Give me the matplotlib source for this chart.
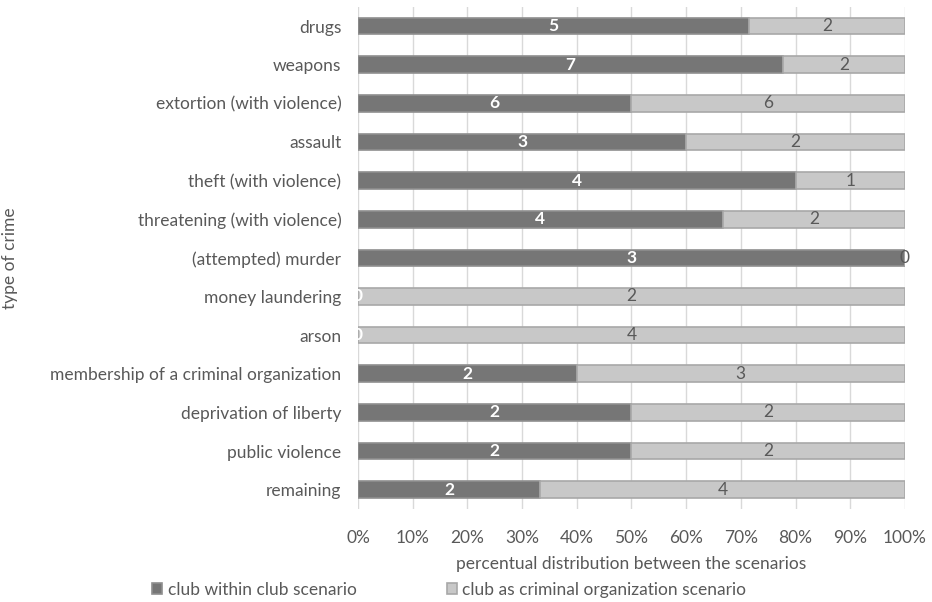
import matplotlib
matplotlib.use("Agg")
import matplotlib.pyplot as plt
import numpy as np

categories = ["drugs", "weapons", "extortion (with violence)", "assault",
              "theft (with violence)", "threatening (with violence)",
              "(attempted) murder", "money laundering", "arson",
              "membership of a criminal organization", "deprivation of liberty",
              "public violence", "remaining"]
club_within = [5, 7, 6, 3, 4, 4, 3, 0, 0, 2, 2, 2, 2]
criminal_org = [2, 2, 6, 2, 1, 2, 0, 2, 4, 3, 2, 2, 4]
series_names = ["club within club scenario", "club as criminal organization scenario"]
xticks = [0, 10, 20, 30, 40, 50, 60, 70, 80, 90, 100]

plt.rcParams['font.family'] = ['Lato', 'DejaVu Sans']
txt = "#595959"
fs = 12.5

fig = plt.figure(figsize=(9.32, 6.02), dpi=100)
ax = fig.add_axes([0.3841, 0.1545, 0.5869, 0.8344])

a = np.array(club_within, float)
b = np.array(criminal_org, float)
tot = a + b
pa = a / tot * 100
pb = b / tot * 100
y = np.arange(len(categories))

h = 0.43
bars1 = ax.barh(y, pa, height=h, color="#767676", edgecolor="#8f8f8f", linewidth=1.2,
                label=series_names[0], zorder=3)
bars2 = ax.barh(y, pb, left=pa, height=h, color="#c8c8c8", edgecolor="#a8a8a8", linewidth=1.2,
                label=series_names[1], zorder=3)

for i in range(len(categories)):
    ax.text(pa[i] / 2, y[i], str(club_within[i]), ha="center", va="center",
            color="white", fontsize=fs, fontweight="bold", zorder=5)
    ax.text(pa[i] + pb[i] / 2, y[i], str(criminal_org[i]), ha="center", va="center",
            color=txt, fontsize=fs, zorder=5)

ax.set_ylim(len(categories) - 0.5, -0.5)
ax.set_xlim(0, 100)
ax.set_xticks(xticks)
ax.set_xticklabels([f"{t}%" for t in xticks])
ax.set_yticks(y)
ax.set_yticklabels(categories)
ax.tick_params(axis="both", length=0, labelsize=fs, colors=txt)
ax.tick_params(axis="x", pad=15)
ax.tick_params(axis="y", pad=12)
ax.grid(axis="x", color="#d9d9d9", linewidth=1, zorder=0)
for s in ax.spines.values():
    s.set_visible(False)
ax.set_xlabel("percentual distribution between the scenarios", fontsize=fs, color=txt, labelpad=7)
fig.text(10 / 932, 1 - 258 / 602, "type of crime", rotation=90, ha="center", va="center",
         fontsize=fs, color=txt)

leg = fig.legend(handles=[bars1, bars2], labels=series_names, loc="center left",
                 bbox_to_anchor=(0.163, 1 - 590 / 602), ncol=2, frameon=False, fontsize=fs,
                 handlelength=0.6, handleheight=0.6, handletextpad=0.3, columnspacing=5.2,
                 borderpad=0, borderaxespad=0)
for t in leg.get_texts():
    t.set_color(txt)

fig.savefig("out.png", dpi=100)
